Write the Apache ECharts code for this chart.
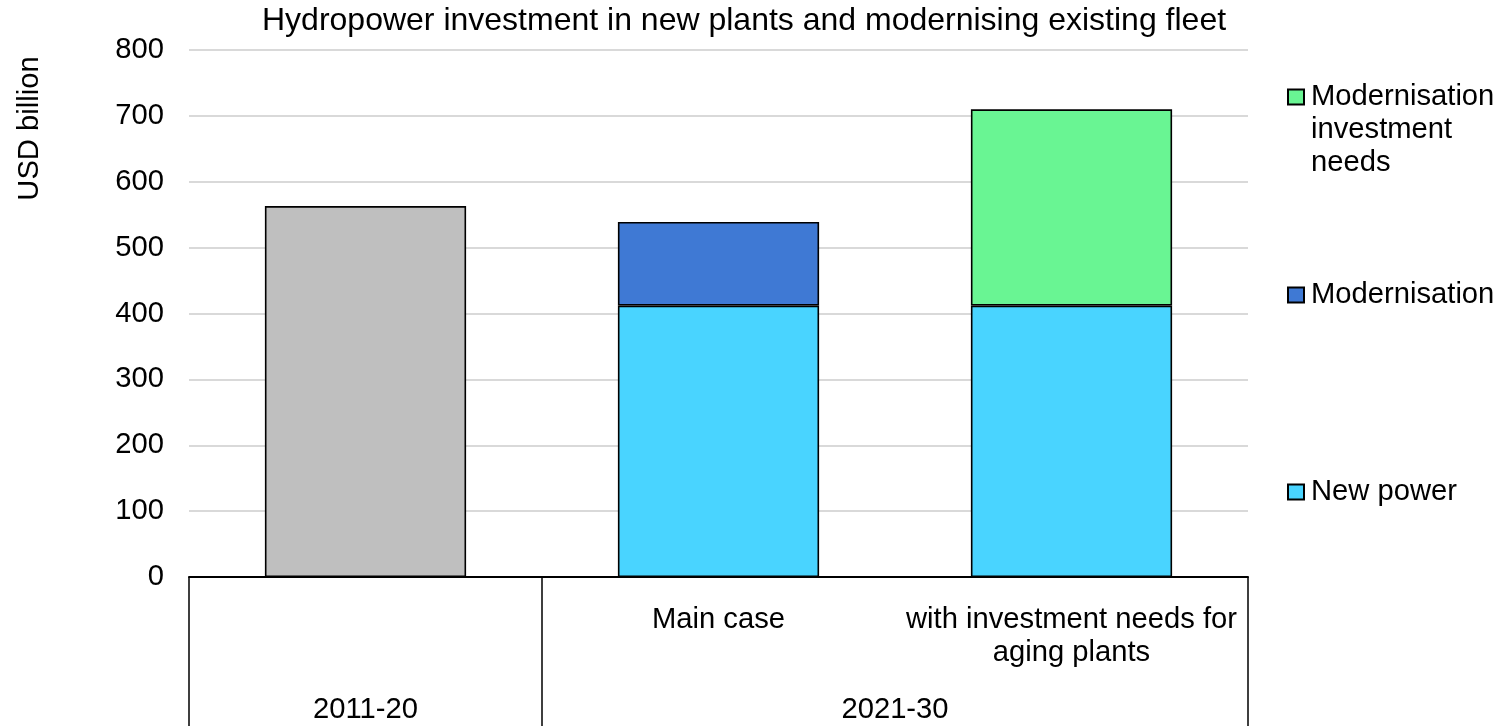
<!DOCTYPE html>
<html>
<head>
<meta charset="utf-8">
<script src="https://cdn.jsdelivr.net/npm/echarts@6/dist/echarts.min.js"></script>
<style>
  html, body { margin: 0; padding: 0; background: #ffffff; }
  #chart { width: 1503px; height: 726px; }
</style>
</head>
<body>
<div id="chart"></div>
<script>
// Scenario labels (inner axis row) and period groups (outer axis row)
const categories = ['', 'Main case', 'with investment needs for\naging plants'];
const periods = ['', '2011-20', '', '', '2021-30', '', ''];
const periodDividers = [0, 2, 6];
const yTicks = { min: 0, max: 800, interval: 100 };

// Values in USD billion
const historical = [563, null, null];
const newPower = [null, 412, 412];
const modernisation = [null, 127, null];
const modernisationNeeds = [null, null, 298];

const FONT = 'Arial, "Liberation Sans", sans-serif';
const FS = 29.2;
const LH = 33;
const border = { borderColor: '#000000', borderWidth: 1.6 };

const chart = echarts.init(document.getElementById('chart'), null, { renderer: 'canvas' });

// One legend box per entry so each can sit beside its own band on the right.
// leadLines pushes a multi-line name down so its first line sits level with the swatch.
function legendBox(name, top, leadLines) {
  return {
    data: [{ name: name, icon: 'rect' }],
    orient: 'vertical',
    left: 1287,
    top: top,
    padding: 0,
    itemWidth: 16,
    itemHeight: 15,
    selectedMode: false,
    formatter: function (n) { return '\n'.repeat(leadLines) + n; },
    textStyle: {
      fontFamily: FONT, fontSize: FS, color: '#000000', lineHeight: LH,
      padding: [0, 0, 0, 2]
    }
  };
}

chart.setOption({
  animation: false,
  backgroundColor: '#ffffff',
  title: {
    text: 'Hydropower investment in new plants and modernising existing fleet',
    left: 262,
    top: 5,
    padding: 0,
    textStyle: { fontFamily: FONT, fontSize: 32, fontWeight: 'normal', color: '#000000' }
  },
  legend: [
    legendBox('Modernisation\ninvestment\nneeds', 97 - 2.5 * LH, 2),
    legendBox('Modernisation', 295 - LH / 2, 0),
    legendBox('New power', 492 - LH / 2, 0)
  ],
  grid: { left: 189, right: 255, top: 50, bottom: 146, containLabel: false },
  xAxis: [
    {
      type: 'category',
      data: categories,
      position: 'bottom',
      axisLine: { show: true, lineStyle: { color: '#000000', width: 2 } },
      axisTick: { show: false },
      axisLabel: {
        interval: 0, margin: 26, fontFamily: FONT, fontSize: FS, color: '#000000',
        lineHeight: LH, align: 'center'
      },
      splitLine: { show: false }
    },
    {
      type: 'category',
      data: periods,
      boundaryGap: false,
      position: 'bottom',
      axisLine: { show: false },
      axisTick: {
        show: true,
        length: 150,
        interval: function (idx) { return periodDividers.indexOf(idx) !== -1; },
        lineStyle: { color: '#000000', width: 1.5 }
      },
      axisLabel: {
        interval: 0, margin: 116, fontFamily: FONT, fontSize: FS, color: '#000000',
        lineHeight: LH
      },
      splitLine: { show: false }
    }
  ],
  yAxis: {
    type: 'value',
    min: yTicks.min,
    max: yTicks.max,
    interval: yTicks.interval,
    name: 'USD billion',
    nameLocation: 'middle',
    nameGap: 145,
    nameRotate: 90,
    nameTextStyle: { fontFamily: FONT, fontSize: FS, color: '#000000', padding: [0, 0, 0, 370] },
    axisLine: { show: false },
    axisTick: { show: false },
    axisLabel: { margin: 25, fontFamily: FONT, fontSize: FS, color: '#000000' },
    splitLine: { show: true, lineStyle: { color: '#D9D9D9', width: 2 } }
  },
  series: [
    {
      name: '2011-20 total', type: 'bar', stack: 'total', barWidth: '57%',
      data: historical, itemStyle: Object.assign({ color: '#BFBFBF' }, border)
    },
    {
      name: 'New power', type: 'bar', stack: 'total', barWidth: '57%',
      data: newPower, itemStyle: Object.assign({ color: '#49D4FF' }, border)
    },
    {
      name: 'Modernisation', type: 'bar', stack: 'total', barWidth: '57%',
      data: modernisation, itemStyle: Object.assign({ color: '#3F79D4' }, border)
    },
    {
      name: 'Modernisation\ninvestment\nneeds', type: 'bar', stack: 'total', barWidth: '57%',
      data: modernisationNeeds, itemStyle: Object.assign({ color: '#69F593' }, border)
    }
  ]
});
</script>
</body>
</html>
